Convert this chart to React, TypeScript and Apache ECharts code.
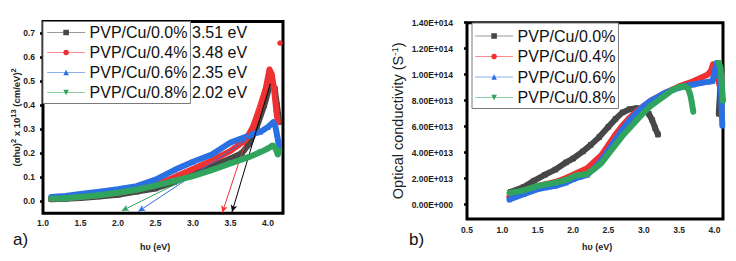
import React, { useEffect, useRef } from 'react';
import * as echarts from 'echarts';

const seriesNames = ['PVP/Cu/0.0%', 'PVP/Cu/0.4%', 'PVP/Cu/0.6%', 'PVP/Cu/0.8%'];
const bandGapLabels = ['3.51 eV', '3.48 eV', '2.35 eV', '2.02 eV'];
const colors = ['#474747', '#ef3131', '#2b70e2', '#30a45c'];
const symbols = ['rect', 'circle', 'triangle', 'triangle'];
const symbolRotations = [0, 0, 0, 180];

// Panel a) Tauc plot: (αhυ)² x 10^13 vs hυ (eV)
const tauc00 = [[1.11, 0.008], [1.3, 0.01], [1.5, 0.013], [1.75, 0.02], [2.0, 0.027], [2.25, 0.04], [2.5, 0.053], [2.75, 0.08], [3.0, 0.115], [3.25, 0.148], [3.5, 0.178], [3.65, 0.2], [3.75, 0.24], [3.85, 0.31], [3.95, 0.4], [4.02, 0.48], [4.05, 0.49], [4.09, 0.47], [4.12, 0.4], [4.15, 0.33]];
const tauc04 = [[1.11, 0.01], [1.3, 0.014], [1.5, 0.018], [1.75, 0.026], [2.0, 0.035], [2.25, 0.048], [2.5, 0.068], [2.75, 0.1], [3.0, 0.135], [3.25, 0.17], [3.5, 0.21], [3.7, 0.255], [3.8, 0.31], [3.9, 0.39], [3.97, 0.47], [4.02, 0.55], [4.05, 0.53], [4.08, 0.47], [4.11, 0.38], [4.13, 0.33], [4.14, null], [4.16, 0.66]];
const tauc06 = [[1.11, 0.018], [1.3, 0.022], [1.5, 0.03], [1.75, 0.04], [2.0, 0.05], [2.25, 0.063], [2.5, 0.09], [2.75, 0.13], [3.0, 0.165], [3.25, 0.195], [3.5, 0.245], [3.65, 0.262], [3.8, 0.28], [3.9, 0.29], [4.0, 0.31], [4.07, 0.33], [4.1, 0.31], [4.13, 0.26], [4.15, 0.22]];
const tauc08 = [[1.11, 0.01], [1.3, 0.012], [1.5, 0.018], [1.75, 0.025], [2.0, 0.035], [2.25, 0.048], [2.5, 0.065], [2.75, 0.085], [3.0, 0.105], [3.25, 0.13], [3.5, 0.158], [3.75, 0.185], [3.9, 0.205], [4.0, 0.22], [4.06, 0.232], [4.1, 0.22], [4.13, 0.195], [4.15, 0.21]];
const taucSeries = [tauc00, tauc04, tauc06, tauc08];

// Linear extrapolations (arrow end on the energy axis, other end on the curve)
const fit00 = [[3.52, -0.045], [4.03, 0.49]];
const fit04 = [[3.39, -0.048], [4.0, 0.53]];
const fit06 = [[2.27, -0.043], [3.78, 0.27]];
const fit08 = [[2.05, -0.04], [3.15, 0.13]];
const fitLines = [fit00, fit04, fit06, fit08];

const taucXTicks = [1.0, 1.5, 2.0, 2.5, 3.0, 3.5, 4.0];
const taucYTicks = [0.0, 0.1, 0.2, 0.3, 0.4, 0.5, 0.6, 0.7];

// Panel b) Optical conductivity (S^-1) vs hυ (eV)
const cond00 = [[1.12, 1.0e13], [1.3, 1.35e13], [1.45, 1.85e13], [1.6, 2.3e13], [1.75, 2.7e13], [1.9, 3.25e13], [2.0, 3.55e13], [2.14, 4.1e13], [2.25, 4.6e13], [2.37, 5.2e13], [2.5, 6.0e13], [2.6, 6.6e13], [2.7, 7.1e13], [2.8, 7.35e13], [2.9, 7.42e13], [3.0, 7.3e13], [3.07, 7.0e13], [3.12, 6.5e13], [3.16, 5.9e13], [3.2, 5.4e13], [3.5, null], [4.06, 7.0e13], [4.08, 8.8e13], [4.09, 9.6e13], [4.1, 10.4e13]];
const cond04 = [[1.1, 0.6e13], [1.3, 1.0e13], [1.5, 1.45e13], [1.75, 1.75e13], [1.9, 2.05e13], [2.0, 2.3e13], [2.1, 2.55e13], [2.2, 2.8e13], [2.3, 3.3e13], [2.4, 3.8e13], [2.5, 4.6e13], [2.6, 5.4e13], [2.7, 6.1e13], [2.8, 6.7e13], [2.9, 7.2e13], [3.0, 7.6e13], [3.1, 8.0e13], [3.2, 8.3e13], [3.3, 8.6e13], [3.4, 8.85e13], [3.5, 9.1e13], [3.6, 9.3e13], [3.7, 9.5e13], [3.8, 9.75e13], [3.9, 10.0e13], [3.95, 10.3e13], [3.98, 10.8e13], [4.01, 10.5e13], [4.05, 9.6e13], [4.08, 9.0e13], [4.11, 8.2e13]];
const cond06 = [[1.1, 0.4e13], [1.3, 0.8e13], [1.5, 1.2e13], [1.75, 1.45e13], [1.9, 1.7e13], [2.0, 1.95e13], [2.1, 2.15e13], [2.2, 2.3e13], [2.3, 2.8e13], [2.4, 3.4e13], [2.5, 4.2e13], [2.6, 5.0e13], [2.7, 5.8e13], [2.8, 6.5e13], [2.9, 7.1e13], [3.0, 7.6e13], [3.1, 8.0e13], [3.2, 8.3e13], [3.3, 8.6e13], [3.4, 8.8e13], [3.5, 9.0e13], [3.6, 9.15e13], [3.7, 9.25e13], [3.8, 9.35e13], [3.9, 9.45e13], [3.97, 9.5e13], [4.0, 10.2e13], [4.03, 10.9e13], [4.06, 10.3e13], [4.09, 9.0e13], [4.11, 6.1e13]];
const cond08 = [[1.1, 0.9e13], [1.3, 1.1e13], [1.5, 1.45e13], [1.75, 1.7e13], [1.9, 1.9e13], [2.04, 2.25e13], [2.19, 2.35e13], [2.3, 2.75e13], [2.4, 3.2e13], [2.5, 3.9e13], [2.6, 4.6e13], [2.7, 5.3e13], [2.8, 5.9e13], [2.9, 6.5e13], [3.0, 7.1e13], [3.1, 7.6e13], [3.2, 8.0e13], [3.3, 8.4e13], [3.4, 8.8e13], [3.5, 9.05e13], [3.58, 9.1e13], [3.63, 8.9e13], [3.66, 8.4e13], [3.68, 7.8e13], [3.7, 7.15e13], [3.9, null], [4.06, 10.9e13], [4.08, 10.6e13], [4.1, 9.5e13], [4.12, 8.0e13]];
const condSeries = [cond00, cond04, cond06, cond08];

const condXTicks = [0.5, 1.0, 1.5, 2.0, 2.5, 3.0, 3.5, 4.0];
const condYTicks = [0, 2e13, 4e13, 6e13, 8e13, 1e14, 1.2e14, 1.4e14];

const FONT = '"Liberation Sans", Arial, sans-serif';

function sci(v: number): string {
  if (v === 0) return '0.00E+000';
  const e = Math.floor(Math.log10(Math.abs(v)) + 1e-9);
  const m = v / Math.pow(10, e);
  return m.toFixed(2) + 'E+' + String(e).padStart(3, '0');
}

export default function App() {
  const ref = useRef<HTMLDivElement>(null);
  useEffect(() => {
    if (!ref.current) return;
    const chart = echarts.init(ref.current, null, { renderer: 'svg' });
    const tickLabel = { fontFamily: FONT, fontSize: 8.5, fontWeight: 'bold', color: '#222' };

    const lineSeries = (data: any[], i: number, axis: number) => ({
      type: 'line',
      name: seriesNames[i],
      xAxisIndex: axis,
      yAxisIndex: axis,
      data,
      symbol: symbols[i],
      symbolRotate: symbolRotations[i],
      symbolSize: 5.5,
      showSymbol: true,
      connectNulls: false,
      lineStyle: { width: 6, color: colors[i], join: 'round', cap: 'round' },
      itemStyle: { color: colors[i] },
      emphasis: { disabled: true },
      z: 2 + i,
    });

    const legendBase = {
      orient: 'vertical',
      itemHeight: 7,
      itemGap: 4,
      backgroundColor: '#fff',
      borderColor: '#7a7a7a',
      borderWidth: 1,
      borderRadius: 0,
      textStyle: { fontFamily: FONT, fontSize: 16, color: '#111', lineHeight: 16 },
      lineStyle: { width: 1.2, opacity: 0.55 },
      selectedMode: false,
      data: seriesNames,
    };

    const option: any = {
      animation: false,
      backgroundColor: '#fff',
      grid: [
        { left: 43, top: 21.5, width: 240, height: 191.7, show: true, borderColor: '#000', borderWidth: 3, backgroundColor: 'transparent' },
        { left: 467, top: 22.7, width: 256, height: 196.3, show: true, borderColor: '#000', borderWidth: 3, backgroundColor: 'transparent' },
      ],
      xAxis: [
        {
          type: 'value', gridIndex: 0, min: 1.0, max: 4.2,
          axisLine: { show: false }, splitLine: { show: false }, axisTick: { show: false },
          axisLabel: { ...tickLabel, margin: 5, customValues: taucXTicks, formatter: (v: number) => v.toFixed(1) },
        },
        {
          type: 'value', gridIndex: 1, min: 0.5, max: 4.12,
          axisLine: { show: false }, splitLine: { show: false }, axisTick: { show: false },
          axisLabel: { ...tickLabel, margin: 6, customValues: condXTicks, formatter: (v: number) => v.toFixed(1) },
        },
      ],
      yAxis: [
        {
          type: 'value', gridIndex: 0, min: -0.05, max: 0.75,
          axisLine: { show: false }, splitLine: { show: false },
          axisTick: { show: true, length: 3, lineStyle: { width: 2.5, color: '#000' }, customValues: taucYTicks },
          axisLabel: { ...tickLabel, margin: 8, customValues: taucYTicks, formatter: (v: number) => v.toFixed(1) },
          name: '(αhυ){s|2} x 10{s|13} (cm/eV){s|2}',
          nameLocation: 'middle',
          nameGap: 19.5,
          nameMoveOverlap: false,
          nameTextStyle: {
            fontFamily: FONT, fontSize: 9.5, fontWeight: 'bold', color: '#222', lineHeight: 14,
            rich: { s: { fontFamily: FONT, fontSize: 7.5, fontWeight: 'bold', color: '#222', verticalAlign: 'top', lineHeight: 7 } },
          },
        },
        {
          type: 'value', gridIndex: 1, min: -1.1e13, max: 1.4e14,
          axisLine: { show: false }, splitLine: { show: false },
          axisTick: { show: true, length: 3, lineStyle: { width: 2.5, color: '#000' }, customValues: condYTicks },
          axisLabel: { ...tickLabel, margin: 14, customValues: condYTicks, formatter: (v: number) => sci(v) },
          name: 'Optical conductivity (S{s|-1})',
          nameLocation: 'middle',
          nameGap: 60,
          nameMoveOverlap: false,
          nameTextStyle: {
            fontFamily: FONT, fontSize: 14.5, color: '#222', lineHeight: 18,
            rich: { s: { fontFamily: FONT, fontSize: 9.5, color: '#222', verticalAlign: 'top', lineHeight: 9 } },
          },
        },
      ],
      legend: [
        { ...legendBase, left: 43, top: 21.5, itemWidth: 37, padding: [3, 3, 3, 4] },
        { ...legendBase, left: 472, top: 23, itemWidth: 37, itemGap: 4.5, padding: [5, 3, 3, 3] },
      ],
      series: [
        ...taucSeries.map((d, i) => lineSeries(d, i, 0)),
        ...condSeries.map((d, i) => lineSeries(d, i, 1)),
        ...fitLines.map((f, i) => ({
          type: 'line',
          name: 'fit' + i,
          xAxisIndex: 0,
          yAxisIndex: 0,
          data: [],
          z: 10,
          markLine: {
            silent: true,
            symbol: ['arrow', 'none'],
            symbolSize: [5, 7],
            label: { show: false },
            lineStyle: { color: i === 0 ? '#000' : colors[i], width: 1, type: 'solid' },
            data: [[{ coord: f[0] }, { coord: f[1] }]],
          },
        })),
      ],
      graphic: [
        ...bandGapLabels.map((t, i) => ({
          type: 'text', left: 192, top: 24 + i * 20, z: 100,
          style: { text: t, fontFamily: FONT, fontSize: 16, fill: '#111' },
        })),
        { type: 'text', left: 13, top: 231, style: { text: 'a)', fontFamily: FONT, fontSize: 17, fill: '#111' } },
        { type: 'text', left: 409, top: 231, style: { text: 'b)', fontFamily: FONT, fontSize: 17, fill: '#111' } },
        { type: 'text', left: 140, top: 242, style: { text: 'hυ (eV)', fontFamily: FONT, fontSize: 9, fontWeight: 'bold', fill: '#222' } },
        { type: 'text', left: 582, top: 242, style: { text: 'hυ (eV)', fontFamily: FONT, fontSize: 9, fontWeight: 'bold', fill: '#222' } },
      ],
    };
    chart.setOption(option);
    return () => chart.dispose();
  }, []);
  return <div ref={ref} style={{ width: 736, height: 261, position: 'absolute', left: 0, top: 0 }} />;
}
